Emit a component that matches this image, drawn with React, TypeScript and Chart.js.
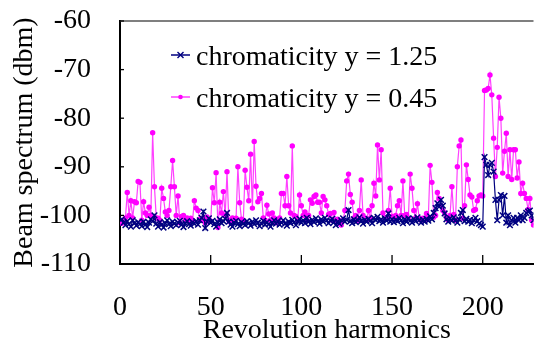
import React, { useEffect, useRef } from "react";
import { Chart, registerables } from "chart.js";

Chart.register(...registerables);

const HARMONIC_START = 1;
const X_MIN = 0;
const X_MAX = 228;
const X_STEP = 50;
const Y_MIN = -110;
const Y_MAX = -60;
const Y_STEP = 10;

const X_TITLE = "Revolution harmonics";
const Y_TITLE = "Beam spectrum (dbm)";
const SERIES_LABELS = ["chromaticity y = 1.25", "chromaticity y = 0.45"];

// chromaticity y = 1.25 (navy, crosses)
const CHROM_125 = [
  -100.8, -101.5, -102, -101.2, -101.8, -102.3, -101, -101.6, -102.1, -101.4,
  -101.8, -102.2, -101.3, -101.9, -102.4, -101.5, -100.8, -101.2, -100, -101.7,
  -102.3, -101.4, -101.9, -102.5, -101.6, -101, -101.8, -102.2, -101.3, -101.7,
  -102, -101.5, -101.1, -101.9, -102.4, -101.6, -101.2, -101.8, -102.1, -101.4,
  -101.7, -101.2, -101.9, -101, -100.5, -99.2, -102.6, -101.3, -100.6, -101.5,
  -101.1, -101.8, -102.3, -101.4, -100.8, -101.6, -101.2, -100.7, -99.5, -101.3,
  -101.9, -102.3, -101.5, -101.1, -101.8, -102.2, -101.4, -101.7, -102, -101.2,
  -101.6, -102.1, -101.3, -101.8, -101, -101.5, -102.2, -101.7, -101.1, -101.9,
  -101.4, -101.8, -102.3, -101.5, -101, -101.7, -101.2, -101.9, -101.5, -101,
  -101.7, -102.1, -101.3, -101.6, -100.9, -101.4, -102, -101.2, -100.7, -101.5,
  -101, -101.6, -100.5, -101.3, -101.8, -100.9, -101.4, -100.6, -101.2, -101.7,
  -100.8, -101.3, -100.5, -101, -101.6, -101.1, -100.7, -101.4, -102, -101.3,
  -101.7, -101, -100.6, -101.3, -100.9, -98.9, -101.2, -101.6, -100.8, -101.4,
  -101, -100.4, -101.2, -101.7, -100.9, -101.3, -100.7, -101.1, -101.6, -100.5,
  -101, -100.3, -101.2, -100.8, -101.5, -100.6, -101.1, -99.6, -101.3, -100.8,
  -101.4, -100.9, -101.2, -100.5, -101, -101.6, -100.8, -101.3, -100.6, -101.1,
  -101.5, -100.7, -101.2, -100.4, -101, -101.5, -100.9, -101.3, -100.7, -101.1,
  -100.2, -100.8, -99.5, -98.5, -97.5, -98.2, -96.8, -98, -99.6, -100.8,
  -101.3, -100.6, -101.1, -100.4, -101, -101.5, -100.8, -99.5, -98.9, -101.2,
  -100.7, -101.3, -100.9, -101.6, -101, -100.5, -101.2, -101.7, -102, -102.3,
  -88, -89.6, -91.7, -89.6, -89.2, -91, -96.8, -101, -96.8, -95.8,
  -100, -96, -101.5, -100, -102, -101, -100.5, -101.5, -100.5, -101,
  -100, -101, -100.5, -99.5, -99.2, -99, -100, -101,
];

// chromaticity y = 0.45 (magenta, dots)
const CHROM_045 = [
  -101.6, -101, -100.5, -95.3, -100, -97, -100.5, -97.2, -97.4, -93,
  -93.2, -101, -97.2, -99.5, -100, -98.3, -100, -83, -94.1, -100.5,
  -100.6, -101, -94.4, -96.5, -99.3, -100, -99, -94.1, -88.7, -94.1,
  -100, -96, -101.5, -100.2, -100, -100.8, -100.5, -101.2, -100.6, -101,
  -97, -98.5, -99, -100.8, -101, -100.5, -101.5, -100.3, -101, -101.2,
  -94.3, -97.4, -91.2, -102.5, -97.3, -99.5, -95.1, -100, -91, -101,
  -101.4, -100.5, -101, -100.6, -90, -97.4, -100.8, -101, -90.7, -94.2,
  -97, -87.4, -98.5, -84.8, -94, -97.2, -96.5, -95.5, -100.5, -101,
  -97.9, -99.7, -101, -99.5, -100.5, -101.5, -101, -100.5, -95.5, -95.5,
  -98, -92, -98, -99.5, -85.7, -100, -100.2, -101, -95.8, -98,
  -100, -99.3, -101, -100, -96.8, -97.5, -96.1, -95.8, -97.3, -97.3,
  -99.5, -96.1, -96.8, -98, -99.8, -99.6, -101, -99.4, -101, -100.8,
  -101.5, -102, -101, -99, -92.9, -91.5, -95.7, -97.3, -100.5, -100,
  -101, -99, -92.7, -100, -100.6, -101, -99, -100.6, -98, -93.4,
  -96, -85.5, -92.7, -86.5, -99.5, -100.5, -100.6, -99, -94.4, -100.2,
  -100.8, -100, -98, -97, -100, -92.9, -100, -99.8, -100.5, -91.5,
  -94.4, -99, -100.5, -97.6, -100.6, -101, -100.6, -101, -99.6, -100.5,
  -89.7, -93.2, -100.4, -100, -95.3, -96.5, -98, -99, -99.5, -100.5,
  -101, -100, -94.1, -99.8, -101, -90, -85.7, -84.5, -100.6, -98,
  -89.6, -92.6, -95.8, -96.2, -99, -98.8, -97, -96, -95.8, -96,
  -74.3, -74.2, -73.9, -71.1, -75.2, -84.1, -92, -86, -75.7, -80,
  -91.3, -86.8, -83.1, -92, -86.5, -92.6, -86.5, -86.5, -92.3, -89,
  -95.5, -93.4, -95.5, -96.5, -98.8, -96.5, -101, -102,
];

const NAVY = "#000080";
const MAGENTA = "#ff00ff";
const MAGENTA_LINE = "#ff40ff";
const FONT_FAMILY = '"Liberation Serif", "Times New Roman", serif';

const toPoints = (arr: number[]) =>
  arr.map((v, i) => ({ x: HARMONIC_START + i, y: v }));

const framePlugin = {
  id: "frameTicks",
  afterDatasetsDraw(chart: any) {
    const ctx = chart.ctx;
    const { left, right, top, bottom } = chart.chartArea;
    const xs = chart.scales.x;
    const ys = chart.scales.y;
    ctx.save();
    ctx.strokeStyle = "#555";
    ctx.lineWidth = 1.5;
    ctx.beginPath();
    ctx.moveTo(left, top);
    ctx.lineTo(right, top);
    ctx.stroke();
    ctx.strokeStyle = "#000";
    ctx.lineWidth = 1.3;
    xs.ticks.forEach((t: any) => {
      const px = xs.getPixelForValue(t.value);
      ctx.beginPath();
      ctx.moveTo(px, bottom);
      ctx.lineTo(px, bottom - 9);
      ctx.stroke();
    });
    ys.ticks.forEach((t: any) => {
      const py = ys.getPixelForValue(t.value);
      ctx.beginPath();
      ctx.moveTo(left, py);
      ctx.lineTo(left + 4, py);
      ctx.stroke();
    });
    ctx.restore();
  },
};

const legendPlugin = {
  id: "insideLegend",
  afterDatasetsDraw(chart: any) {
    const ctx = chart.ctx;
    const { left, top } = chart.chartArea;
    chart.data.datasets.forEach((ds: any, i: number) => {
      const y = top + 34 + i * 42;
      const x0 = left + 51;
      const x1 = left + 70;
      const xm = (x0 + x1) / 2;
      ctx.save();
      ctx.strokeStyle = ds.borderColor;
      ctx.lineWidth = 1.5;
      ctx.beginPath();
      ctx.moveTo(x0, y);
      ctx.lineTo(x1, y);
      ctx.stroke();
      if (ds.pointStyle === "crossRot") {
        const r = 3;
        ctx.lineWidth = 1.4;
        ctx.beginPath();
        ctx.moveTo(xm - r, y - r);
        ctx.lineTo(xm + r, y + r);
        ctx.moveTo(xm - r, y + r);
        ctx.lineTo(xm + r, y - r);
        ctx.stroke();
      } else {
        ctx.fillStyle = ds.pointBackgroundColor;
        ctx.beginPath();
        ctx.arc(xm, y, 2.3, 0, Math.PI * 2);
        ctx.fill();
      }
      ctx.fillStyle = "#000";
      ctx.font = `28px ${FONT_FAMILY}`;
      ctx.textAlign = "left";
      ctx.textBaseline = "alphabetic";
      ctx.fillText(ds.label, left + 76, y + 10);
      ctx.restore();
    });
  },
};

export default function App() {
  const canvasRef = useRef<HTMLCanvasElement | null>(null);

  useEffect(() => {
    if (!canvasRef.current) return;
    const chart = new Chart(canvasRef.current, {
      type: "line",
      data: {
        datasets: [
          {
            label: SERIES_LABELS[0],
            data: toPoints(CHROM_125),
            borderColor: NAVY,
            borderWidth: 1.2,
            pointStyle: "crossRot",
            pointRadius: 4,
            pointBorderColor: NAVY,
            pointBackgroundColor: NAVY,
            pointBorderWidth: 1.5,
            tension: 0,
          },
          {
            label: SERIES_LABELS[1],
            data: toPoints(CHROM_045),
            borderColor: MAGENTA_LINE,
            borderWidth: 1.2,
            pointStyle: "circle",
            pointRadius: 2.7,
            pointBorderColor: MAGENTA,
            pointBackgroundColor: MAGENTA,
            pointBorderWidth: 0,
            tension: 0,
          },
        ],
      },
      options: {
        responsive: false,
        animation: false,
        devicePixelRatio: 1,
        layout: { padding: { top: 21, right: 0, left: 0, bottom: 0 } },
        plugins: {
          legend: { display: false },
          tooltip: { enabled: false },
        },
        scales: {
          x: {
            type: "linear",
            min: X_MIN,
            max: X_MAX,
            afterFit: (s: any) => {
              s.height = 81;
              s.paddingLeft = 0;
              s.paddingRight = 0;
            },
            ticks: {
              stepSize: X_STEP,
              includeBounds: false,
              color: "#000",
              padding: 27,
              maxRotation: 0,
              font: { family: FONT_FAMILY, size: 28 },
            },
            grid: { display: false, drawTicks: false },
            border: { display: true, color: "#000", width: 2 },
            title: {
              display: true,
              text: X_TITLE,
              color: "#000",
              padding: 0,
              font: { family: FONT_FAMILY, size: 28, lineHeight: 1 },
            },
          },
          y: {
            type: "linear",
            min: Y_MIN,
            max: Y_MAX,
            afterFit: (s: any) => {
              s.width = 120;
              s.paddingTop = 0;
              s.paddingBottom = 0;
            },
            ticks: {
              stepSize: Y_STEP,
              color: "#000",
              padding: 29,
              font: { family: FONT_FAMILY, size: 28 },
            },
            grid: { display: false, drawTicks: false },
            border: { display: true, color: "#000", width: 2 },
            title: {
              display: true,
              text: Y_TITLE,
              color: "#000",
              padding: { top: 8, bottom: 0 },
              font: { family: FONT_FAMILY, size: 28, lineHeight: 1.2 },
            },
          },
        },
      },
      plugins: [framePlugin, legendPlugin],
    });
    return () => chart.destroy();
  }, []);

  return (
    <div style={{ position: "absolute", left: 0, top: 0, width: 539, height: 345, background: "#fff" }}>
      <canvas ref={canvasRef} width={539} height={345} />
    </div>
  );
}
